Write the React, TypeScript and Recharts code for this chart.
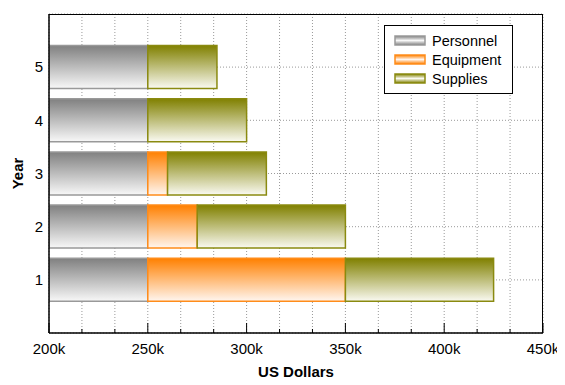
import { BarChart, Bar, XAxis, YAxis, CartesianGrid, Legend } from "recharts"

const years = ["1", "2", "3", "4", "5"]
const personnel = [250000, 250000, 250000, 250000, 250000]
const equipment = [100000, 25000, 10000, 0, 0]
const supplies = [75000, 75000, 50000, 50000, 35000]

const majorTicks = [200000, 250000, 300000, 350000, 400000, 450000]
const tickLabels = ["200k", "250k", "300k", "350k", "400k", "450k"]

const series = [
  { key: "Personnel", grad: "gPers", stroke: "#999999", light: "#f8f8f8", dark: "#808080" },
  { key: "Equipment", grad: "gEquip", stroke: "#ff8c1a", light: "#fff6f0", dark: "#ff8000" },
  { key: "Supplies", grad: "gSupp", stroke: "#8a8a10", light: "#fafaf2", dark: "#808000" },
]

const data = years.map((y, i) => ({
  year: y,
  Personnel: personnel[i],
  Equipment: equipment[i],
  Supplies: supplies[i],
}))

// 2 minor ticks between each labelled one
const allTicks: number[] = []
majorTicks.forEach((m, i) => {
  allTicks.push(m)
  if (i < majorTicks.length - 1) {
    const step = (majorTicks[i + 1] - m) / 3
    allTicks.push(m + step, m + step * 2)
  }
})

const font = "'Liberation Sans', Arial, Helvetica, sans-serif"

const XTick = (props: any) => {
  const { x, y, payload } = props
  const idx = majorTicks.findIndex((m) => Math.abs(m - payload.value) < 1)
  const major = idx >= 0
  return (
    <g>
      <line x1={x} x2={x} y1={y} y2={y - (major ? 10 : 4)} stroke="#000" />
      {major && (
        <text x={x} y={y + 21} textAnchor="middle" fontSize={15} fill="#000" fontFamily={font}>
          {tickLabels[idx]}
        </text>
      )}
    </g>
  )
}

const LegendBox = () => (
  <div
    style={{
      background: "#fff",
      border: "1px solid #000",
      padding: "5px 0 5px 9px",
      fontFamily: font,
      fontSize: 14.5,
      width: 118,
    }}
  >
    {series.map((s) => (
      <div key={s.key} style={{ display: "flex", alignItems: "center", height: 19 }}>
        <svg width={32} height={11} style={{ marginRight: 6 }}>
          <defs>
            <linearGradient id={"l" + s.grad} x1="0" y1="0" x2="0" y2="1">
              <stop offset="0%" stopColor={s.dark} />
              <stop offset="50%" stopColor={s.light} />
              <stop offset="100%" stopColor={s.dark} />
            </linearGradient>
          </defs>
          <rect x={1} y={1} width={30} height={9} fill={"url(#l" + s.grad + ")"} stroke={s.stroke} strokeWidth={1.5} />
        </svg>
        <span>{s.key}</span>
      </div>
    ))}
  </div>
)

export default function App() {
  return (
    <div style={{ background: "#fff", position: "relative", width: 557, height: 377 }}>
      <BarChart
        width={557}
        height={377}
        data={data}
        layout="vertical"
        margin={{ top: 6, right: 22, left: 0, bottom: 0 }}
        barSize={43}
      >
        <defs>
          {series.map((s) => (
            <linearGradient key={s.grad} id={s.grad} x1="0" y1="0" x2="0" y2="1">
              <stop offset="0%" stopColor={s.dark} />
              <stop offset="100%" stopColor={s.light} />
            </linearGradient>
          ))}
        </defs>
        <CartesianGrid stroke="#999" strokeDasharray="1 2" />
        <XAxis
          type="number"
          domain={[200000, 450000]}
          allowDataOverflow
          ticks={allTicks}
          interval={0}
          tick={<XTick />}
          tickLine={false}
          tickSize={0}
          tickMargin={0}
          height={52}
          axisLine={{ stroke: "#000", strokeWidth: 1.5 }}
          label={{ value: "US Dollars", position: "insideBottom", offset: 8, style: { fontWeight: "bold", fontSize: 15, fill: "#000", fontFamily: font } }}
        />
        <YAxis
          type="category"
          dataKey="year"
          reversed
          width={41}
          padding={{ top: 26.5, bottom: 26.5 }}
          tickLine={false}
          tickSize={0}
          tickMargin={6}
          axisLine={{ stroke: "#000", strokeWidth: 1.5 }}
          tick={{ fontSize: 15, fill: "#000", fontFamily: font }}
          label={{ value: "Year", angle: -90, position: "insideLeft", offset: 10, style: { textAnchor: "middle", fontWeight: "bold", fontSize: 15, fill: "#000", fontFamily: font } }}
        />
        <Legend
          layout="vertical"
          align="center"
          verticalAlign="middle"
          content={<LegendBox />}
          wrapperStyle={{ position: "absolute", top: 17, left: 376, width: 129 }}
        />
        {series.map((s) => (
          <Bar
            key={s.key}
            dataKey={s.key}
            stackId="a"
            fill={`url(#${s.grad})`}
            stroke={s.stroke}
            strokeWidth={1.5}
            isAnimationActive={false}
          />
        ))}
      </BarChart>
      {/* plot frame (top and right edges) */}
      <div
        style={{
          position: "absolute",
          left: 41,
          top: 6,
          width: 494,
          height: 319,
          boxSizing: "border-box",
          borderTop: "1px solid #000",
          borderRight: "1px solid #000",
          pointerEvents: "none",
        }}
      />
    </div>
  )
}
